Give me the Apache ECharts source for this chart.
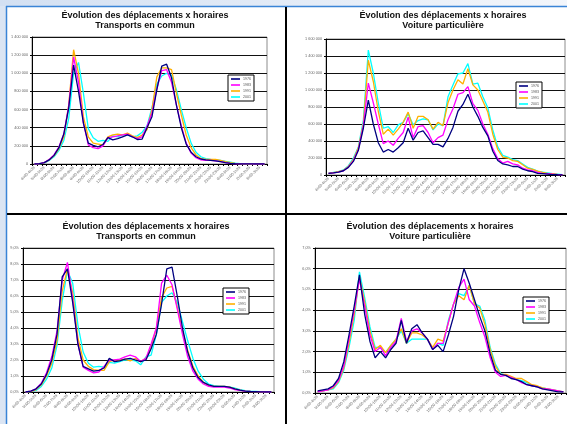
<!DOCTYPE html>
<html>
<head>
<meta charset="utf-8">
<script src="https://cdn.jsdelivr.net/npm/echarts@6/dist/echarts.min.js"></script>
<style>
  html, body { margin: 0; padding: 0; background: #fff; }
  #chart { width: 567px; height: 424px; }
</style>
</head>
<body>
<div id="chart"></div>
<script>
// Half-hour time slots, 4h00 to 3h59 next morning
const slots = [
  '4h00-4h29','4h30-4h59','5h00-5h29','5h30-5h59','6h00-6h29','6h30-6h59',
  '7h00-7h29','7h30-7h59','8h00-8h29','8h30-8h59','9h00-9h29','9h30-9h59',
  '10h00-10h29','10h30-10h59','11h00-11h29','11h30-11h59','12h00-12h29','12h30-12h59',
  '13h00-13h29','13h30-13h59','14h00-14h29','14h30-14h59','15h00-15h29','15h30-15h59',
  '16h00-16h29','16h30-16h59','17h00-17h29','17h30-17h59','18h00-18h29','18h30-18h59',
  '19h00-19h29','19h30-19h59','20h00-20h29','20h30-20h59','21h00-21h29','21h30-21h59',
  '22h00-22h29','22h30-22h59','23h00-23h29','23h30-23h59','0h00-0h29','0h30-0h59',
  '1h00-1h29','1h30-1h59','2h00-2h29','2h30-2h59','3h00-3h29','3h30-3h59'
];
const years = ['1976', '1983', '1991', '2001'];
const yearColors = ['#000080', '#ff00ff', '#ffb000', '#00ffff'];

// Transports en commun, trips per slot (thousands)
const tcTrips1976 = [0,3,15,45,95,180,330,620,1090,800,450,230,205,190,215,290,265,280,300,320,300,270,275,400,520,820,1080,1100,950,650,400,220,130,80,55,45,40,35,25,15,8,3,2,1,1,0,0,0];
const tcTrips1983 = [0,3,15,50,100,190,330,640,1180,900,450,210,180,170,200,290,300,310,320,330,300,280,300,420,560,830,1030,1040,900,650,420,230,120,70,45,40,40,35,25,15,8,3,2,1,1,0,0,0];
const tcTrips1991 = [0,2,12,45,90,170,300,650,1260,1000,520,300,230,220,210,300,320,330,320,340,310,290,320,380,600,960,1060,1060,1040,780,540,320,180,100,60,50,50,50,40,25,15,8,4,2,1,0,0,0];
const tcTrips2001 = [0,1,10,40,80,150,260,500,1000,1120,780,390,290,250,260,250,310,300,320,320,300,310,350,420,620,880,970,1000,980,820,600,400,230,130,80,60,50,45,40,30,20,10,5,3,2,1,1,0];

// Voiture particulière, trips per slot (thousands)
const vpTrips1976 = [20,25,35,50,90,160,290,550,880,600,380,270,300,270,320,380,550,410,500,520,440,360,360,330,430,560,750,830,950,800,690,560,460,280,170,130,120,100,100,70,50,40,20,15,10,5,3,2];
const vpTrips1983 = [20,25,35,50,95,170,300,580,1080,850,600,370,400,350,430,500,680,440,570,580,500,380,440,470,650,780,950,970,1040,840,760,600,480,310,190,140,160,130,120,80,60,50,30,20,15,10,5,3];
const vpTrips1991 = [20,28,40,55,100,180,320,600,1350,1100,750,480,540,470,540,620,740,550,690,690,650,540,620,580,850,1000,1120,1070,1250,1060,1000,870,740,480,300,210,200,170,160,120,80,65,45,30,20,15,8,5];
const vpTrips2001 = [20,30,40,60,110,200,330,640,1470,1200,850,550,570,500,590,620,720,590,640,660,650,530,600,580,920,1060,1190,1200,1310,1070,1080,920,790,530,330,230,210,180,170,130,90,70,45,35,25,15,10,5];

// Transports en commun, share of the day's trips (%)
const tcShare1976 = [0,0.05,0.2,0.5,1.1,2.0,3.6,7.2,7.7,5.6,3.0,1.6,1.45,1.3,1.35,1.5,2.1,1.9,1.95,2.05,2.1,2.0,1.9,2.0,2.7,3.6,5.5,7.7,7.8,6.0,4.0,2.5,1.5,0.9,0.6,0.45,0.35,0.35,0.35,0.3,0.2,0.12,0.06,0.03,0.02,0.01,0,0];
const tcShare1983 = [0,0.05,0.2,0.55,1.2,2.2,3.8,7.0,8.1,5.8,3.0,1.55,1.35,1.2,1.25,1.6,2.0,2.0,2.05,2.2,2.3,2.2,1.9,2.1,3.0,4.0,6.8,7.3,6.7,5.2,3.6,2.2,1.3,0.8,0.5,0.35,0.3,0.3,0.3,0.25,0.15,0.1,0.05,0.03,0.02,0.01,0,0];
const tcShare1991 = [0,0.03,0.15,0.45,1.0,1.8,3.2,6.3,7.7,6.2,3.4,2.0,1.6,1.4,1.35,1.35,1.9,2.0,2.0,2.05,1.95,2.1,1.9,2.1,2.8,4.0,5.9,6.5,6.6,5.3,3.8,2.6,1.6,1.0,0.6,0.4,0.35,0.35,0.35,0.3,0.2,0.12,0.06,0.03,0.02,0.01,0,0];
const tcShare2001 = [0,0.02,0.1,0.35,0.8,1.5,2.9,5.7,7.6,6.8,4.2,2.5,1.8,1.55,1.6,1.55,1.85,1.8,1.9,2.0,2.0,1.95,1.7,2.2,2.3,3.6,5.6,6.0,6.2,5.6,4.4,3.2,2.1,1.3,0.8,0.5,0.4,0.35,0.35,0.3,0.25,0.15,0.08,0.04,0.03,0.02,0.01,0];

// Voiture particulière, share of the day's trips (%)
const vpShare1976 = [0.1,0.15,0.2,0.35,0.7,1.5,2.8,4.2,5.7,3.8,2.5,1.7,2.0,1.7,2.1,2.4,3.5,2.4,3.1,3.3,2.9,2.6,2.1,2.3,2.0,2.8,3.7,5.0,6.0,5.3,4.5,3.7,3.0,1.9,1.1,0.9,0.85,0.7,0.65,0.55,0.4,0.35,0.3,0.2,0.15,0.1,0.05,0.05];
const vpShare1983 = [0.05,0.1,0.15,0.3,0.6,1.3,2.6,4.0,5.5,4.2,2.8,2.0,2.2,1.8,2.2,2.5,3.6,2.5,3.0,3.1,2.9,2.6,2.1,2.4,2.4,3.4,4.3,5.1,5.5,4.5,4.2,3.4,2.7,1.7,1.0,0.8,0.85,0.75,0.65,0.5,0.4,0.35,0.3,0.2,0.2,0.15,0.1,0.05];
const vpShare1991 = [0.05,0.1,0.15,0.25,0.55,1.2,2.4,3.8,5.6,4.4,3.0,2.1,2.3,1.95,2.3,2.6,3.1,2.4,2.9,2.9,2.8,2.6,2.2,2.6,2.5,3.4,4.3,4.7,4.5,5.2,4.3,4.1,3.3,2.1,1.3,0.9,0.9,0.8,0.7,0.7,0.55,0.4,0.35,0.25,0.2,0.15,0.1,0.05];
const vpShare2001 = [0.05,0.1,0.15,0.2,0.5,1.1,2.2,3.5,5.85,4.6,3.2,2.2,2.2,1.95,2.3,2.6,3.0,2.4,2.6,2.6,2.6,2.6,2.1,2.4,2.3,3.5,4.3,4.8,4.7,5.2,4.3,4.2,3.5,2.2,1.4,0.95,0.85,0.75,0.65,0.6,0.5,0.35,0.3,0.25,0.2,0.15,0.1,0.05];

const titleTC = 'Évolution des déplacements x horaires\nTransports en commun';
const titleVP = 'Évolution des déplacements x horaires\nVoiture particulière';

const panels = [
  { title: titleTC, cx: 145, ty: 10, grid: { left: 32, top: 37, width: 235, height: 127 },
    max: 1400000, step: 200000, kind: 'trips', scale: 1000,
    legend: { left: 228, top: 75 },
    data: [tcTrips1976, tcTrips1983, tcTrips1991, tcTrips2001] },
  { title: titleVP, cx: 443, ty: 10, grid: { left: 326, top: 39, width: 239, height: 136 },
    max: 1600000, step: 200000, kind: 'trips', scale: 1000,
    legend: { left: 516, top: 82 },
    data: [vpTrips1976, vpTrips1983, vpTrips1991, vpTrips2001] },
  { title: titleTC, cx: 146, ty: 221, grid: { left: 23, top: 248, width: 251, height: 144 },
    max: 9, step: 1, kind: 'share', scale: 1,
    legend: { left: 223, top: 288 },
    data: [tcShare1976, tcShare1983, tcShare1991, tcShare2001] },
  { title: titleVP, cx: 430, ty: 221, grid: { left: 315, top: 248, width: 251, height: 145 },
    max: 7, step: 1, kind: 'share', scale: 1,
    legend: { left: 523, top: 297 },
    data: [vpShare1976, vpShare1983, vpShare1991, vpShare2001] }
];

function tripsLabel(v) {
  return String(Math.round(v)).replace(/\B(?=(\d{3})+(?!\d))/g, ' ');
}
function shareLabel(v) {
  return v.toFixed(1).replace('.', ',') + '%';
}

const option = {
  backgroundColor: '#ffffff',
  animation: false,
  textStyle: { fontFamily: 'Liberation Sans, Arial, sans-serif' },
  graphic: [
    { type: 'rect', shape: { x: 0, y: 0, width: 6, height: 424 }, style: { fill: '#dbe5f3' }, silent: true },
    { type: 'rect', shape: { x: 0, y: 0, width: 567, height: 6 },
      style: { fill: new echarts.graphic.LinearGradient(0, 0, 1, 0, [
        { offset: 0, color: '#d3e0f2' }, { offset: 1, color: '#f3f6fb' }]) }, silent: true },
    { type: 'line', shape: { x1: 6.5, y1: 6, x2: 6.5, y2: 424 }, style: { stroke: '#3a84d6', lineWidth: 1.5 }, silent: true },
    { type: 'line', shape: { x1: 6, y1: 6.5, x2: 567, y2: 6.5 }, style: { stroke: '#3a84d6', lineWidth: 1.5 }, silent: true },
    { type: 'line', shape: { x1: 286, y1: 7, x2: 286, y2: 424 }, style: { stroke: '#000', lineWidth: 2 }, silent: true },
    { type: 'line', shape: { x1: 7, y1: 214, x2: 567, y2: 214 }, style: { stroke: '#000', lineWidth: 2 }, silent: true }
  ],
  title: [], grid: [], xAxis: [], yAxis: [], legend: [], series: []
};

panels.forEach((p, k) => {
  option.title.push({
    text: p.title, left: p.cx, top: p.ty, textAlign: 'center', padding: 0,
    textStyle: { fontSize: 9, fontWeight: 'bold', color: '#111', lineHeight: 10.5,
                 fontFamily: 'Liberation Sans, Arial, sans-serif' }
  });
  option.grid.push(Object.assign({ show: true, borderColor: '#8c8c8c', borderWidth: 1,
                                   backgroundColor: 'transparent' }, p.grid));
  option.xAxis.push({
    type: 'category', gridIndex: k, data: slots, boundaryGap: true,
    axisLine: { lineStyle: { color: '#000', width: 1 } },
    axisTick: { show: true, interval: 0, length: 2, lineStyle: { color: '#000' } },
    axisLabel: { interval: 1, rotate: 45, fontSize: 3.8, color: '#666', margin: 3 }
  });
  option.yAxis.push({
    type: 'value', gridIndex: k, min: 0, max: p.max, interval: p.step,
    axisLine: { show: true, lineStyle: { color: '#000', width: 1 } },
    axisTick: { show: true, length: 2, lineStyle: { color: '#000' } },
    splitLine: { show: true, lineStyle: { color: '#111', width: 1.2 } },
    axisLabel: { fontSize: 3.8, color: '#666', margin: 4,
                 formatter: p.kind === 'trips' ? tripsLabel : shareLabel }
  });
  option.legend.push({
    orient: 'vertical', left: p.legend.left, top: p.legend.top,
    data: years, backgroundColor: '#fff', borderColor: '#000', borderWidth: 1,
    padding: [2, 3, 2, 3], itemGap: 2, itemWidth: 9, itemHeight: 1.6, icon: 'rect',
    textStyle: { fontSize: 3.6, color: '#555', padding: [0, 0, 0, -2] },
    selectedMode: false
  });
  years.forEach((y, j) => {
    option.series.push({
      type: 'line', name: y, xAxisIndex: k, yAxisIndex: k,
      data: p.data[j].map(v => v * p.scale),
      showSymbol: false, symbol: 'none',
      lineStyle: { color: yearColors[j], width: 1.3 },
      itemStyle: { color: yearColors[j] },
      z: 3 + (3 - j)
    });
  });
});

const chart = echarts.init(document.getElementById('chart'), null, { renderer: 'canvas' });
chart.setOption(option);
</script>
</body>
</html>
